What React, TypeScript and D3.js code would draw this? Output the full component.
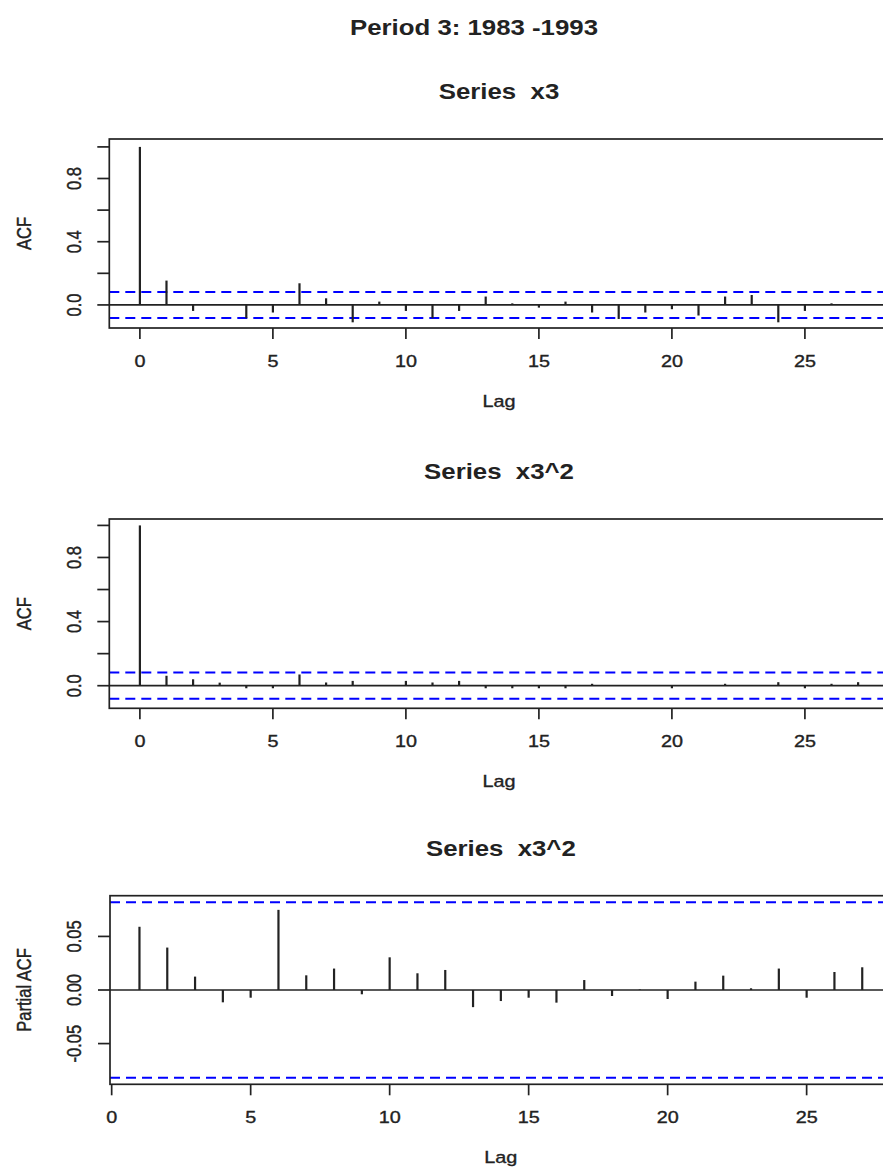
import React from "react";
import * as d3 from "d3";

// ---- Data ----
const mainTitle = "Period 3: 1983 -1993";
const panelTitles = ["Series  x3", "Series  x3^2", "Series  x3^2"];
const yLabels = ["ACF", "ACF", "Partial ACF"];
const xLabel = "Lag";

const acfLags = d3.range(0, 28);
const pacfLags = d3.range(1, 28);

const acfX3 = [1, 0.154, -0.038, 0.002, -0.084, -0.048, 0.137, 0.042, -0.11, 0.021, -0.038, -0.084, -0.038, 0.053,
  0.01, -0.017, 0.021, -0.048, -0.089, -0.048, -0.027, -0.067, 0.053, 0.063, -0.11, -0.038, 0.01, 0.002];
const acfX3sq = [1, 0.062, 0.04, 0.019, -0.016, -0.016, 0.07, 0.02, 0.03, 0.001, 0.03, 0.02, 0.03, -0.016,
  -0.016, -0.016, -0.016, 0.012, 0.001, -0.001, -0.016, 0.001, 0.012, 0.001, 0.022, -0.016, 0.012, 0.022];
const pacfX3sq = [0.059, 0.0396, 0.0125, -0.0115, -0.0072, 0.0748, 0.0137, 0.02, -0.004, 0.0305, 0.0156, 0.0187,
  -0.016, -0.0103, -0.0072, -0.0118, 0.0093, -0.0056, 0.0005, -0.0084, 0.0078, 0.0134, 0.0016, 0.02, -0.0072, 0.0168, 0.0212];

const ciBound = 0.082;

const xTicks = [0, 5, 10, 15, 20, 25];
const acfYTicks = [0, 0.2, 0.4, 0.6, 0.8, 1.0];
const acfYTickLabels = [
  { v: 0, t: "0.0" },
  { v: 0.4, t: "0.4" },
  { v: 0.8, t: "0.8" },
];
const pacfYTicks = [-0.05, 0, 0.05];
const pacfYTickLabels = [
  { v: -0.05, t: "-0.05" },
  { v: 0, t: "0.00" },
  { v: 0.05, t: "0.05" },
];

// ---- Layout ----
const W = 883;
const H = 1168;
const SX = 1.2; // horizontal stretch of the reference's text
const FONT = "'Liberation Sans', Arial, sans-serif";
const INK = "#222";

const panels = [
  {
    lags: acfLags, values: acfX3, title: panelTitles[0], yLabel: yLabels[0],
    yTicks: acfYTicks, yTickLabels: acfYTickLabels,
    x: d3.scaleLinear().domain([-1.15, 28.15]).range([109.3, 888.7]),
    y: d3.scaleLinear().domain([-0.146, 1.05]).range([328, 139]),
  },
  {
    lags: acfLags, values: acfX3sq, title: panelTitles[1], yLabel: yLabels[1],
    yTicks: acfYTicks, yTickLabels: acfYTickLabels,
    x: d3.scaleLinear().domain([-1.15, 28.15]).range([109.3, 888.7]),
    y: d3.scaleLinear().domain([-0.141, 1.04]).range([708.3, 519]),
  },
  {
    lags: pacfLags, values: pacfX3sq, title: panelTitles[2], yLabel: yLabels[2],
    yTicks: pacfYTicks, yTickLabels: pacfYTickLabels,
    x: d3.scaleLinear().domain([-0.06, 28.06]).range([110, 891.7]),
    y: d3.scaleLinear().domain([-0.088, 0.088]).range([1084.3, 895.7]),
  },
];

function T({ x, y, size, bold, anchor = "middle", rotate = false, children }: any) {
  return (
    <text
      transform={`translate(${x},${y}) scale(${SX},1)${rotate ? " rotate(-90)" : ""}`}
      textAnchor={anchor}
      fontFamily={FONT}
      fontSize={size}
      fontWeight={bold ? "bold" : "normal"}
      fill={INK}
      stroke={bold ? "none" : INK}
      strokeWidth={bold ? 0 : 0.35}
      style={{ whiteSpace: "pre" }}
      xmlSpace="preserve"
    >
      {children}
    </text>
  );
}

function Panel({ p }: any) {
  const [x0, x1] = p.x.range();
  const [yb, yt] = p.y.range();
  const cx = (x0 + x1) / 2;
  const y0 = p.y(0);
  return (
    <g>
      <T x={cx} y={yt - 40} size={21.5} bold>{p.title}</T>
      {/* CI lines */}
      {[ciBound, -ciBound].map((c, i) => (
        <line key={i} x1={x0} x2={x1} y1={p.y(c)} y2={p.y(c)} stroke="#0000ff" strokeWidth={2} strokeDasharray="10,6" />
      ))}
      {/* zero line */}
      <line x1={x0} x2={x1} y1={y0} y2={y0} stroke={INK} strokeWidth={1.7} />
      {/* bars */}
      {p.lags.map((l: number, i: number) => (
        <line key={l} x1={p.x(l)} x2={p.x(l)} y1={y0} y2={p.y(p.values[i])} stroke={INK} strokeWidth={2.2} />
      ))}
      {/* box */}
      <rect x={x0} y={yt} width={x1 - x0} height={yb - yt} fill="none" stroke={INK} strokeWidth={1.7} />
      {/* x axis ticks */}
      {xTicks.map((t) => (
        <g key={t}>
          <line x1={p.x(t)} x2={p.x(t)} y1={yb} y2={yb + 11} stroke={INK} strokeWidth={1.7} />
          <T x={p.x(t)} y={yb + 39} size={16.5}>{String(t)}</T>
        </g>
      ))}
      <T x={cx} y={yb + 79} size={16.5}>{xLabel}</T>
      {/* y axis ticks */}
      {p.yTicks.map((t: number) => (
        <line key={t} x1={x0 - 12} x2={x0} y1={p.y(t)} y2={p.y(t)} stroke={INK} strokeWidth={1.7} />
      ))}
      {p.yTickLabels.map((d: any) => (
        <T key={d.t} x={81} y={p.y(d.v)} size={16.5} rotate>{d.t}</T>
      ))}
      <T x={31} y={(yt + yb) / 2} size={16.5} rotate>{p.yLabel}</T>
    </g>
  );
}

export default function App() {
  return (
    <svg
      width={W}
      height={H}
      viewBox={`0 0 ${W} ${H}`}
      style={{ position: "absolute", left: 0, top: 0, background: "#fff", overflow: "hidden" }}
    >
      <rect x={0} y={0} width={W} height={H} fill="#fff" />
      <T x={474} y={35} size={21.5} bold>{mainTitle}</T>
      {panels.map((p, i) => (
        <Panel key={i} p={p} />
      ))}
    </svg>
  );
}
